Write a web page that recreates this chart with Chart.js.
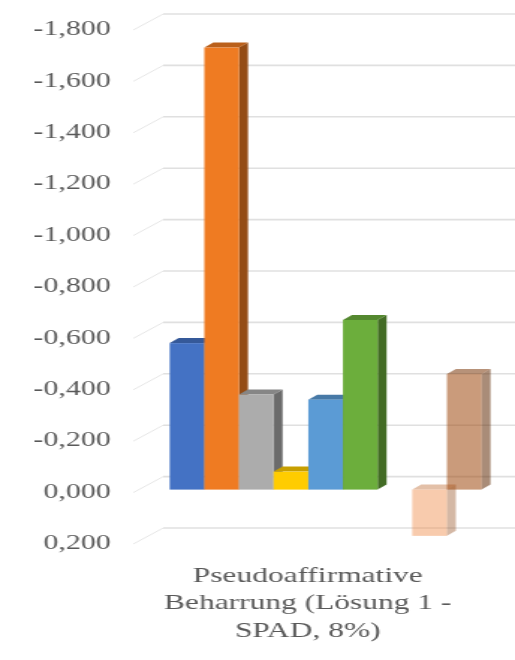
<!DOCTYPE html>
<html lang="de">
<head>
<meta charset="utf-8">
<title>Pseudoaffirmative Beharrung</title>
<script src="https://cdn.jsdelivr.net/npm/chart.js@4/dist/chart.umd.min.js"></script>
<style>
  html, body { margin: 0; padding: 0; background: #ffffff; overflow: hidden; }
  /* the chart is laid out narrow and widened horizontally */
  #wrap { position: absolute; left: 0; top: 0; width: 344px; height: 660px;
          transform: scaleX(1.497); transform-origin: 0 0; }
</style>
</head>
<body>
<div id="wrap"><canvas id="c" width="344" height="660"></canvas></div>
<script>
// ---- data ----
const categories = [['Pseudoaffirmative', 'Beharrung (Lösung 1 -', 'SPAD, 8%)']];
const seriesNames = ['Reihe 1', 'Reihe 2', 'Reihe 3', 'Reihe 4', 'Reihe 5',
                     'Reihe 6', 'Reihe 7', 'Reihe 8', 'Reihe 9'];
const seriesValues = [[-0.57], [-1.72], [-0.37], [-0.07], [-0.35],
                      [-0.66], [null], [0.18], [-0.45]];
const yTickValues = [-1.8, -1.6, -1.4, -1.2, -1.0, -0.8, -0.6, -0.4, -0.2, 0.0, 0.2];

// ---- styles ----
const seriesColors = [
  [68, 114, 196, 1], [239, 123, 34, 1], [172, 172, 172, 1], [255, 204, 0, 1],
  [91, 155, 213, 1], [108, 174, 60, 1], [38, 68, 120, 1],
  [237, 125, 49, 0.40], [158, 72, 14, 0.55]
];
const BAR_DX = 6, BAR_DY = 5;      // bar depth
const WALL_DX = 20, WALL_DY = 16;  // floor depth up to the back wall
const BAR_SHIFT_X = 1, BAR_SHIFT_Y = -3;

function rgba(c, f) {
  const k = f === undefined ? 1 : f;
  return `rgba(${Math.round(c[0] * k)},${Math.round(c[1] * k)},${Math.round(c[2] * k)},${c[3]})`;
}

function fmt(v) {
  const n = Math.abs(v) < 1e-9 ? 0 : v;
  return n.toFixed(3).replace('.', ',');
}

// back-wall gridlines and the floor edges leading to them
const wallGrid = {
  id: 'wallGrid',
  beforeDatasetsDraw(chart) {
    const { ctx, chartArea } = chart;
    const ys = chart.scales.y;
    ctx.save();
    ys.ticks.forEach(t => {
      const py = ys.getPixelForValue(t.value);
      ctx.strokeStyle = '#e6e6e6';
      ctx.lineWidth = 1;
      ctx.beginPath();
      ctx.moveTo(chartArea.left, py);
      ctx.lineTo(chartArea.left + WALL_DX, py - WALL_DY);
      ctx.stroke();
      ctx.strokeStyle = '#e0e0e0';
      ctx.lineWidth = 1.6;
      ctx.beginPath();
      ctx.moveTo(chartArea.left + WALL_DX, py - WALL_DY);
      ctx.lineTo(chart.width, py - WALL_DY);
      ctx.stroke();
    });
    ctx.restore();
  }
};

// columns with a top and a right side face
const columns3d = {
  id: 'columns3d',
  afterDatasetsDraw(chart) {
    const ctx = chart.ctx;
    ctx.save();
    chart.data.datasets.forEach((ds, i) => {
      const meta = chart.getDatasetMeta(i);
      const col = seriesColors[i];
      meta.data.forEach((el, j) => {
        const v = ds.data[j];
        if (v === null || v === undefined) return;
        const p = el.getProps(['x', 'y', 'base', 'width'], true);
        const l = p.x - p.width / 2 + BAR_SHIFT_X;
        const r = p.x + p.width / 2 + BAR_SHIFT_X;
        const top = Math.min(p.y, p.base) + BAR_SHIFT_Y;
        const bot = Math.max(p.y, p.base) + BAR_SHIFT_Y;
        // side
        ctx.fillStyle = rgba(col, 0.62);
        ctx.beginPath();
        ctx.moveTo(r, top); ctx.lineTo(r + BAR_DX, top - BAR_DY);
        ctx.lineTo(r + BAR_DX, bot - BAR_DY); ctx.lineTo(r, bot);
        ctx.closePath(); ctx.fill();
        // top
        ctx.fillStyle = rgba(col, 0.78);
        ctx.beginPath();
        ctx.moveTo(l, top); ctx.lineTo(l + BAR_DX, top - BAR_DY);
        ctx.lineTo(r + BAR_DX, top - BAR_DY); ctx.lineTo(r, top);
        ctx.closePath(); ctx.fill();
        // front
        ctx.fillStyle = rgba(col, 1);
        ctx.fillRect(l, top, r - l, bot - top);
      });
    });
    ctx.restore();
  }
};

const serif = 'Liberation Serif';

new Chart(document.getElementById('c'), {
  type: 'bar',
  data: {
    labels: categories,
    datasets: seriesNames.map((name, i) => ({
      label: name,
      data: seriesValues[i],
      backgroundColor: 'rgba(0,0,0,0)',
      borderWidth: 0
    }))
  },
  options: {
    responsive: false,
    animation: false,
    events: [],
    layout: { padding: { top: 30, left: 0, right: 0, bottom: 15 } },
    categoryPercentage: 0.817,
    barPercentage: 1,
    plugins: { legend: { display: false }, tooltip: { enabled: false } },
    scales: {
      x: {
        grid: { display: false, drawTicks: false },
        border: { display: false },
        afterFit(scale) { scale.height = 101; },
        ticks: {
          color: '#595959',
          font: { family: serif, size: 21, lineHeight: 1.3 },
          padding: 19,
          labelOffset: -11,
          maxRotation: 0,
          autoSkip: false
        }
      },
      y: {
        type: 'linear',
        reverse: true,
        min: -1.8,
        max: 0.2,
        grid: { display: false, drawTicks: false },
        border: { display: false },
        afterFit(scale) { scale.width = 89; },
        afterBuildTicks(scale) { scale.ticks = yTickValues.map(v => ({ value: v })); },
        ticks: {
          color: '#595959',
          font: { family: serif, size: 20 },
          padding: 15,
          callback: v => fmt(v)
        }
      }
    }
  },
  plugins: [wallGrid, columns3d]
});
</script>
</body>
</html>
